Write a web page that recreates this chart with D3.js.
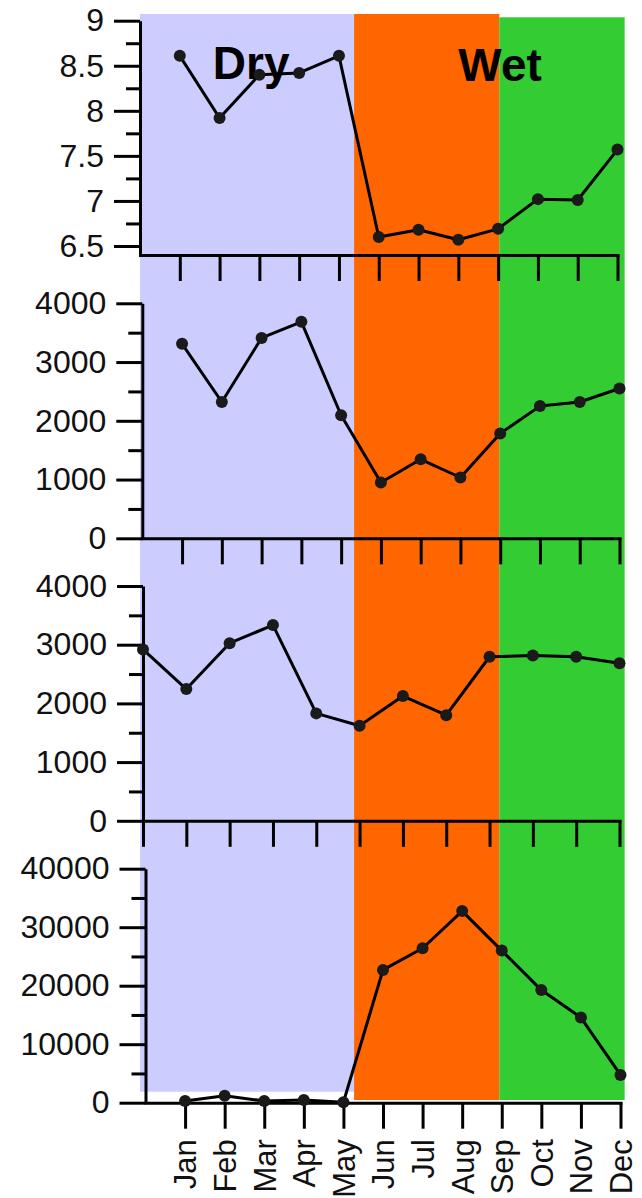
<!DOCTYPE html>
<html>
<head>
<meta charset="utf-8">
<script src="https://cdn.jsdelivr.net/npm/d3@7"></script>
<style>
  html, body { margin: 0; padding: 0; background: #ffffff; }
  svg { display: block; }
  .axis path, .axis line { stroke: #000; stroke-width: 3px; }
  .axis text { font-family: "Liberation Sans", Arial, sans-serif; font-size: 32px; fill: #111; }
</style>
</head>
<body>
<svg id="chart" width="642" height="1198"></svg>
<script>
// Months shown along the shared x axis
const months = ["Jan", "Feb", "Mar", "Apr", "May", "Jun", "Jul", "Aug", "Sep", "Oct", "Nov", "Dec"];

// Monthly series, one per panel (top to bottom)
const seriesA = [8.61, 7.92, 8.40, 8.42, 8.61, 6.60, 6.68, 6.57, 6.69, 7.02, 7.01, 7.57];
const seriesB = [3310, 2320, 3410, 3685, 2095, 950, 1345, 1035, 1785, 2250, 2320, 2550];
const seriesC = [2920, 2245, 3025, 3335, 1830, 1620, 2125, 1800, 2795, 2815, 2795, 2685];
const seriesD = [290, 1200, 290, 460, 70, 22700, 26400, 32750, 26000, 19250, 14550, 4750];

// Y tick values per panel (major labelled, minor unlabelled)
const ticksA = [6.5, 7, 7.5, 8, 8.5, 9];
const minorA = [6.75, 7.25, 7.75, 8.25, 8.75];
const ticksB = [0, 1000, 2000, 3000, 4000];
const minorB = [500, 1500, 2500, 3500];
const ticksC = [0, 1000, 2000, 3000, 4000];
const minorC = [500, 1500, 2500, 3500];
const ticksD = [0, 10000, 20000, 30000, 40000];
const minorD = [5000, 15000, 25000, 35000];

// Seasonal shading, in month units along the top panel's x scale
const seasonStart = [0, 5.38, 9.03];
const seasonEnd = [5.38, 9.03, 12.18];
const seasonNames = ["Dry", "Wet"];

const svg = d3.select("#chart");
const font = '"Liberation Sans", Arial, sans-serif';

// Panel layout: pixel ranges for each small chart
const panels = [
  { values: seriesA, ticks: ticksA, minor: minorA, yDomain: [6.4, 9], yRange: [255, 20.7],
    xDomain: [0, 12], xRange: [140, 617.5], fmt: d3.format("") },
  { values: seriesB, ticks: ticksB, minor: minorB, yDomain: [0, 4000], yRange: [538.3, 303.3],
    xDomain: [0, 12], xRange: [142.3, 619.5], fmt: d3.format("d") },
  { values: seriesC, ticks: ticksC, minor: minorC, yDomain: [0, 4000], yRange: [820.8, 586],
    xDomain: [1, 12], xRange: [143, 619.5], fmt: d3.format("d") },
  { values: seriesD, ticks: ticksD, minor: minorD, yDomain: [0, 40000], yRange: [1102.7, 868.7],
    xDomain: [0, 12], xRange: [145.5, 620.5], fmt: d3.format("d") }
];

panels.forEach(p => {
  p.x = d3.scaleLinear().domain(p.xDomain).range(p.xRange);
  p.y = d3.scaleLinear().domain(p.yDomain).range(p.yRange);
});

// Background season bands, spanning all panels
const bx = panels[0].x;
const bandColors = ["#ccccff", "#ff6600", "#33cc33"];
const bandTop = [14, 14, 17.3];
const bandBottom = [1091.7, 1100, 1100];
svg.append("g").selectAll("rect")
  .data(seasonStart)
  .join("rect")
  .attr("x", (d, i) => bx(d))
  .attr("width", (d, i) => bx(seasonEnd[i]) - bx(d))
  .attr("y", (d, i) => bandTop[i])
  .attr("height", (d, i) => bandBottom[i] - bandTop[i])
  .attr("fill", (d, i) => bandColors[i]);

// Season titles in the top panel
const p0 = panels[0];
svg.append("text")
  .attr("x", p0.x(1.83)).attr("y", p0.y(8.355))
  .attr("font-family", font).attr("font-weight", "bold").attr("font-size", 46)
  .attr("fill", "#000")
  .text(seasonNames[0]);
svg.append("text")
  .attr("x", p0.x(8.0)).attr("y", p0.y(8.33))
  .attr("font-family", font).attr("font-weight", "bold").attr("font-size", 46)
  .attr("fill", "#000")
  .text(seasonNames[1]);

const monthPos = months.map((m, i) => i + 1);

panels.forEach((p, pi) => {
  const g = svg.append("g");
  const y0 = p.yRange[0];

  // x axis along the panel's floor
  const xAxis = d3.axisBottom(p.x)
    .tickValues(monthPos)
    .tickSize(26)
    .tickSizeOuter(0)
    .tickFormat(pi === panels.length - 1 ? (d => months[d - 1]) : "");
  const xg = g.append("g").attr("class", "axis").attr("transform", `translate(0,${y0})`).call(xAxis);
  xg.select(".domain").attr("stroke-linecap", "square");

  if (pi === panels.length - 1) {
    xg.selectAll(".tick text")
      .attr("transform", "rotate(-90)")
      .attr("text-anchor", "end")
      .attr("x", -36.5)
      .attr("y", 0)
      .attr("dy", "0.35em")
      .style("font-size", "31px");
  }

  // minor y ticks
  const yMinor = d3.axisLeft(p.y).tickValues(p.minor).tickSize(14).tickFormat("");
  g.append("g").attr("class", "axis")
    .attr("transform", `translate(${p.x(p.xDomain[0])},0)`)
    .call(yMinor)
    .call(s => s.select(".domain").remove());

  // major y ticks with labels
  const yAxis = d3.axisLeft(p.y).tickValues(p.ticks).tickSize(26).tickSizeOuter(0)
    .tickPadding(10).tickFormat(p.fmt);
  g.append("g").attr("class", "axis")
    .attr("transform", `translate(${p.x(p.xDomain[0])},0)`)
    .call(yAxis);

  // monthly line and markers
  const line = d3.line().x((d, i) => p.x(i + 1)).y(d => p.y(d));
  g.append("path")
    .datum(p.values)
    .attr("d", line)
    .attr("fill", "none")
    .attr("stroke", "#000")
    .attr("stroke-width", 3)
    .attr("stroke-linejoin", "round");
  g.append("g").selectAll("circle")
    .data(p.values)
    .join("circle")
    .attr("cx", (d, i) => p.x(i + 1))
    .attr("cy", d => p.y(d))
    .attr("r", 6)
    .attr("fill", "#1a1a1a");
});
</script>
</body>
</html>
